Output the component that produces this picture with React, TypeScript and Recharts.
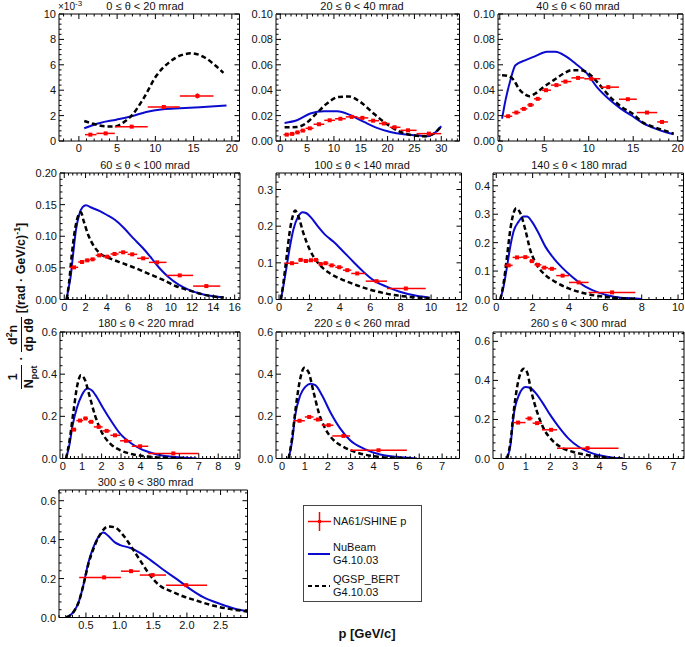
import React from 'react';
import { ComposedChart, Line, Scatter, ErrorBar, XAxis, YAxis } from 'recharts';

const FONT = "'Liberation Sans', Arial, Helvetica, sans-serif";
const RED = '#ff0000';
const BLUE = '#0b0bd0';

type Curve = [number, number][];
// p, value, bin low, bin high, stat error
type Meas = [number, number, number, number, number][];

// ---- 0 <= theta < 20 mrad (values in units of 1e-3)
const na61_0_20: Meas = [
  [1.5, 0.5, 0.8, 2.3, 0.06], [3.5, 0.6, 2.3, 4.7, 0.06], [6.9, 1.13, 4.7, 9.0, 0.08],
  [11.1, 2.68, 9.0, 13.2, 0.15], [15.5, 3.55, 13.2, 17.6, 0.2],
];
const nubeam_0_20: Curve = [
  [0.7, 1.0], [2.75, 1.42], [4.9, 1.68], [6.9, 1.95], [8.8, 2.29], [11, 2.5], [13.2, 2.58], [15.8, 2.66], [19.3, 2.79],
];
const qgsp_0_20: Curve = [
  [0.7, 1.58], [1.65, 1.4], [2.5, 1.25], [3.6, 1.15], [4.7, 1.15], [5.8, 1.45], [6.9, 2.0], [8.4, 3.3], [10.2, 5.2],
  [11.9, 6.24], [13.4, 6.76], [14.7, 6.9], [16.3, 6.63], [17.8, 5.97], [18.9, 5.37],
];

// ---- 20 <= theta < 40 mrad
const na61_20_40: Meas = [
  [1.2, 0.005, 0.6, 1.7, 0.0005], [2.2, 0.0056, 1.7, 2.7, 0.0005], [3.2, 0.0068, 2.7, 3.7, 0.0005],
  [4.2, 0.0082, 3.7, 4.7, 0.0006], [5.5, 0.01, 4.7, 6.2, 0.0006], [7.2, 0.0132, 6.2, 8.2, 0.0007],
  [9.2, 0.0163, 8.2, 10.2, 0.0008], [11.2, 0.0175, 10.2, 12.2, 0.0008], [13.3, 0.019, 12.2, 14.4, 0.0009],
  [15.3, 0.0182, 14.4, 16.4, 0.0009], [17.3, 0.016, 16.4, 18.4, 0.0008], [19.3, 0.0138, 18.4, 20.4, 0.0008],
  [21.3, 0.0108, 20.4, 22.4, 0.0007], [23.8, 0.0084, 22.4, 25.4, 0.0006], [27.7, 0.0058, 25.4, 30.0, 0.0005],
];
const nubeam_20_40: Curve = [
  [0.8, 0.0142], [3.1, 0.0163], [5.6, 0.0216], [8.1, 0.0234], [10.6, 0.0234], [13.1, 0.0203], [15.6, 0.015],
  [18, 0.0103], [20.5, 0.0071], [23, 0.0053], [25.5, 0.0045], [27.4, 0.0037], [28.6, 0.0058], [30, 0.0116],
];
const qgsp_20_40: Curve = [
  [0.8, 0.0108], [3.1, 0.011], [4.7, 0.0137], [6.8, 0.022], [8.7, 0.0295], [10.9, 0.0347], [12.8, 0.035],
  [14.9, 0.0308], [17.4, 0.0216], [19.9, 0.0132], [22.4, 0.0071], [24.6, 0.0045], [26.8, 0.0037], [28.6, 0.0058], [30, 0.0116],
];

// ---- 40 <= theta < 60 mrad
const na61_40_60: Meas = [
  [0.94, 0.0195, 0.5, 1.4, 0.0008], [1.87, 0.0224, 1.4, 2.3, 0.0008], [2.7, 0.0253, 2.3, 3.1, 0.0009],
  [3.45, 0.0284, 3.1, 3.85, 0.001], [4.27, 0.0332, 3.85, 4.7, 0.001], [5.2, 0.04, 4.7, 5.75, 0.0012],
  [6.37, 0.044, 5.75, 6.9, 0.0012], [7.38, 0.0468, 6.9, 8.05, 0.0012], [8.8, 0.0497, 8.05, 9.5, 0.0012],
  [10.3, 0.049, 9.5, 11.3, 0.0012], [12.2, 0.0424, 11.3, 13.4, 0.0012], [14.4, 0.0329, 13.4, 15.4, 0.001],
  [16.55, 0.0224, 15.4, 17.7, 0.0009], [18.24, 0.015, 17.7, 18.9, 0.0008],
];
const nubeam_40_60: Curve = [
  [0.26, 0.0176], [0.64, 0.032], [1.2, 0.048], [1.76, 0.0597], [2.9, 0.0637], [4.0, 0.0668], [5.3, 0.0703],
  [6.25, 0.0703], [7.4, 0.0668], [8.5, 0.061], [9.8, 0.0532], [10.9, 0.0426], [12.2, 0.0334], [13.6, 0.0255],
  [14.9, 0.0197], [16.2, 0.0137], [17.5, 0.0097], [18.6, 0.0071], [19.55, 0.0053],
];
const qgsp_40_60: Curve = [
  [0.26, 0.0518], [1.0, 0.051], [1.57, 0.048], [2.13, 0.0413], [2.7, 0.0374], [3.33, 0.0353], [4.0, 0.0374],
  [4.94, 0.0426], [6.07, 0.0479], [7.2, 0.0532], [8.1, 0.0558], [9.06, 0.0558], [10.0, 0.0532], [11.1, 0.0453],
  [12.4, 0.0347], [13.7, 0.0268], [14.9, 0.0216], [16.0, 0.015], [17.5, 0.0105], [19.0, 0.0071], [19.55, 0.0058],
];

// ---- 60 <= theta < 100 mrad
const na61_60_100: Meas = [
  [0.91, 0.0508, 0.53, 1.31, 0.002], [1.66, 0.0593, 1.31, 1.9, 0.002], [2.16, 0.0619, 1.9, 2.4, 0.002],
  [2.66, 0.0635, 2.4, 2.95, 0.002], [3.28, 0.0698, 2.95, 3.65, 0.002], [4.03, 0.0677, 3.65, 4.35, 0.002],
  [4.72, 0.072, 4.35, 5.1, 0.002], [5.53, 0.0746, 5.1, 5.95, 0.002], [6.38, 0.0714, 5.95, 6.85, 0.002],
  [7.41, 0.0651, 6.85, 7.95, 0.002], [8.72, 0.0587, 7.95, 9.6, 0.002], [10.84, 0.0381, 9.6, 12.1, 0.0015],
  [13.34, 0.0212, 12.1, 14.65, 0.0012],
];
const nubeam_60_100: Curve = [
  [0.22, 0], [0.37, 0.015], [0.6, 0.036], [0.84, 0.073], [1.1, 0.11], [1.4, 0.134], [1.72, 0.146], [2.03, 0.149],
  [2.6, 0.145], [3.3, 0.14], [3.97, 0.134], [4.75, 0.126], [5.6, 0.113], [6.47, 0.097], [7.4, 0.081], [8.2, 0.065],
  [8.97, 0.049], [9.75, 0.036], [10.7, 0.024], [11.6, 0.016], [12.7, 0.0095], [14, 0.005], [14.97, 0.003],
];
const qgsp_60_100: Curve = [
  [0.22, 0], [0.44, 0.025], [0.69, 0.068], [1.0, 0.11], [1.38, 0.135], [1.56, 0.138], [1.84, 0.123], [2.25, 0.102],
  [2.72, 0.086], [3.34, 0.073], [4.28, 0.065], [5.53, 0.057], [6.78, 0.049], [8.03, 0.04], [9.28, 0.031],
  [10.5, 0.021], [11.8, 0.014], [13, 0.008], [14.3, 0.004], [14.97, 0.003],
];

// ---- 100 <= theta < 140 mrad
const na61_100_140: Meas = [
  [0.85, 0.099, 0.35, 1.27, 0.003], [1.42, 0.108, 1.27, 1.6, 0.003], [1.77, 0.105, 1.6, 1.94, 0.003],
  [2.1, 0.107, 1.94, 2.27, 0.003], [2.43, 0.108, 2.27, 2.6, 0.003], [2.74, 0.097, 2.6, 2.9, 0.003],
  [3.06, 0.099, 2.9, 3.25, 0.003], [3.46, 0.093, 3.25, 3.7, 0.003], [3.96, 0.088, 3.7, 4.2, 0.003],
  [4.49, 0.08, 4.2, 4.75, 0.003], [5.14, 0.071, 4.75, 5.7, 0.003], [6.41, 0.05, 5.7, 7.1, 0.002],
  [8.34, 0.03, 7.1, 9.65, 0.002],
];
const nubeam_100_140: Curve = [
  [0.12, 0], [0.28, 0.035], [0.5, 0.09], [0.72, 0.145], [0.94, 0.19], [1.27, 0.227], [1.55, 0.238], [1.77, 0.236],
  [2.14, 0.222], [2.58, 0.198], [3.02, 0.177], [3.57, 0.158], [4.22, 0.131], [4.88, 0.103], [5.54, 0.076],
  [6.2, 0.053], [7.07, 0.035], [7.94, 0.021], [9.04, 0.01], [9.9, 0.005],
];
const qgsp_100_140: Curve = [
  [0.12, 0], [0.28, 0.044], [0.5, 0.117], [0.72, 0.19], [0.9, 0.227], [1.05, 0.243], [1.27, 0.227], [1.6, 0.181],
  [2.03, 0.135], [2.58, 0.099], [3.35, 0.071], [4.22, 0.053], [5.1, 0.039], [5.97, 0.027], [7.07, 0.016],
  [8.16, 0.009], [9.26, 0.005], [9.9, 0.004],
];

// ---- 140 <= theta < 180 mrad
const na61_140_180: Meas = [
  [0.68, 0.12, 0.45, 0.9, 0.004], [1.14, 0.148, 0.9, 1.36, 0.004], [1.6, 0.149, 1.36, 1.82, 0.004],
  [1.96, 0.135, 1.82, 2.1, 0.004], [2.29, 0.122, 2.1, 2.48, 0.004], [2.64, 0.112, 2.48, 2.85, 0.004],
  [3.06, 0.108, 2.85, 3.3, 0.004], [3.65, 0.084, 3.3, 4.0, 0.003], [4.53, 0.06, 4.0, 5.08, 0.003],
  [6.37, 0.025, 5.08, 7.65, 0.002],
];
const nubeam_140_180: Curve = [
  [0.22, 0], [0.4, 0.045], [0.59, 0.115], [0.77, 0.186], [0.95, 0.239], [1.23, 0.274], [1.5, 0.292], [1.69, 0.292],
  [1.96, 0.274], [2.33, 0.233], [2.7, 0.186], [3.16, 0.145], [3.61, 0.113], [4.17, 0.08], [4.9, 0.045],
  [5.63, 0.024], [6.55, 0.009], [7.47, 0.004], [8.0, 0.002],
];
const qgsp_140_180: Curve = [
  [0.22, 0], [0.4, 0.056], [0.59, 0.15], [0.77, 0.245], [0.95, 0.304], [1.1, 0.321], [1.32, 0.304], [1.6, 0.245],
  [1.87, 0.174], [2.24, 0.121], [2.7, 0.086], [3.25, 0.062], [3.98, 0.039], [4.72, 0.024], [5.63, 0.012],
  [6.55, 0.006], [7.65, 0.002],
];

// ---- 180 <= theta < 220 mrad
const na61_180_220: Meas = [
  [0.58, 0.137, 0.45, 0.7, 0.005], [0.89, 0.18, 0.7, 1.05, 0.005], [1.17, 0.19, 1.05, 1.3, 0.005],
  [1.46, 0.174, 1.3, 1.6, 0.005], [1.85, 0.15, 1.6, 2.05, 0.004], [2.26, 0.131, 2.05, 2.45, 0.004],
  [2.69, 0.11, 2.45, 2.95, 0.004], [3.26, 0.084, 2.95, 3.55, 0.003], [3.98, 0.058, 3.55, 4.4, 0.003],
  [5.69, 0.024, 4.4, 7.0, 0.002],
];
const nubeam_180_220: Curve = [
  [0.17, 0], [0.34, 0.063], [0.51, 0.158], [0.72, 0.237], [0.98, 0.3], [1.27, 0.332], [1.49, 0.324], [1.75, 0.292],
  [2.09, 0.237], [2.52, 0.174], [2.95, 0.118], [3.46, 0.076], [3.98, 0.047], [4.67, 0.024], [5.52, 0.009],
  [6.38, 0.003], [6.9, 0],
];
const qgsp_180_220: Curve = [
  [0.17, 0], [0.34, 0.079], [0.55, 0.221], [0.75, 0.347], [0.94, 0.395], [1.15, 0.371], [1.37, 0.3], [1.66, 0.205],
  [2.0, 0.126], [2.44, 0.071], [2.95, 0.04], [3.64, 0.019], [4.5, 0.008], [5.35, 0.003], [6.38, 0],
];

// ---- 220 <= theta < 260 mrad
const na61_220_260: Meas = [
  [0.77, 0.179, 0.5, 1.0, 0.006], [1.19, 0.197, 1.0, 1.38, 0.006], [1.57, 0.185, 1.38, 1.74, 0.006],
  [2.04, 0.158, 1.74, 2.25, 0.005], [2.69, 0.107, 2.2, 2.98, 0.004], [4.22, 0.039, 2.98, 5.46, 0.002],
];
const nubeam_220_260: Curve = [
  [0.29, 0], [0.44, 0.079], [0.58, 0.205], [0.8, 0.3], [1.02, 0.34], [1.24, 0.355], [1.46, 0.348], [1.75, 0.3],
  [2.11, 0.221], [2.55, 0.142], [2.98, 0.087], [3.57, 0.047], [4.29, 0.019], [5.02, 0.008], [5.9, 0],
];
const qgsp_220_260: Curve = [
  [0.29, 0], [0.44, 0.095], [0.58, 0.221], [0.77, 0.363], [0.98, 0.43], [1.16, 0.41], [1.38, 0.316], [1.6, 0.221],
  [1.89, 0.142], [2.26, 0.087], [2.69, 0.055], [3.28, 0.028], [4.0, 0.011], [4.73, 0.003], [5.6, 0],
];

// ---- 260 <= theta < 300 mrad
const na61_260_300: Meas = [
  [0.69, 0.184, 0.48, 0.99, 0.007], [1.15, 0.205, 0.99, 1.28, 0.007], [1.46, 0.181, 1.28, 1.66, 0.006],
  [2.03, 0.147, 1.66, 2.27, 0.005], [3.51, 0.053, 2.27, 4.77, 0.003],
];
const nubeam_260_300: Curve = [
  [0.24, 0], [0.38, 0.068], [0.51, 0.222], [0.72, 0.324], [0.99, 0.366], [1.19, 0.361], [1.39, 0.337], [1.66, 0.29],
  [2.0, 0.222], [2.34, 0.162], [2.74, 0.102], [3.15, 0.06], [3.55, 0.034], [4.09, 0.014], [4.64, 0.003], [4.97, 0],
];
const qgsp_260_300: Curve = [
  [0.24, 0], [0.38, 0.085], [0.51, 0.239], [0.69, 0.392], [0.92, 0.46], [1.05, 0.443], [1.23, 0.341], [1.46, 0.239],
  [1.73, 0.153], [2.07, 0.094], [2.47, 0.055], [3.01, 0.031], [3.69, 0.014], [4.36, 0.003], [4.97, 0],
];

// ---- 300 <= theta < 380 mrad
const na61_300_380: Meas = [
  [0.77, 0.206, 0.4, 1.02, 0.008], [1.17, 0.238, 1.02, 1.3, 0.009], [1.49, 0.218, 1.3, 1.69, 0.008],
  [1.99, 0.166, 1.69, 2.3, 0.007],
];
const nubeam_300_380: Curve = [
  [0.21, 0], [0.31, 0.026], [0.39, 0.077], [0.46, 0.163], [0.53, 0.274], [0.61, 0.36], [0.68, 0.411], [0.76, 0.437],
  [0.83, 0.42], [0.93, 0.386], [1.01, 0.372], [1.16, 0.357], [1.31, 0.331], [1.46, 0.295], [1.65, 0.245],
  [1.85, 0.197], [2.05, 0.146], [2.25, 0.103], [2.5, 0.069], [2.7, 0.046], [2.9, 0.031],
];
const qgsp_300_380: Curve = [
  [0.21, 0], [0.31, 0.026], [0.39, 0.077], [0.46, 0.163], [0.53, 0.266], [0.63, 0.369], [0.73, 0.437], [0.83, 0.468],
  [0.93, 0.463], [1.06, 0.42], [1.18, 0.36], [1.31, 0.291], [1.46, 0.214], [1.6, 0.163], [1.75, 0.137],
  [1.95, 0.108], [2.15, 0.086], [2.4, 0.06], [2.65, 0.043], [2.9, 0.031],
];

// tick values
const range = (a: number, b: number, s: number) => {
  const out: number[] = [];
  for (let v = a; v <= b + 1e-9; v += s) out.push(Math.round(v * 1e6) / 1e6);
  return out;
};
const f0 = (v: number) => String(Math.round(v));
const f1 = (v: number) => v.toFixed(1);
const f2 = (v: number) => v.toFixed(2);

interface PanelCfg {
  title: string;
  titleX: number;
  titleY: number;
  box: [number, number, number, number];
  xDomain: [number, number];
  yDomain: [number, number];
  xMajor: number[];
  xMinor: number[];
  yMajor: number[];
  yMinor: number[];
  xFmt: (v: number) => string;
  yFmt: (v: number) => string;
  meas: Meas;
  nubeam: Curve;
  qgsp: Curve;
}

const PANELS: PanelCfg[] = [
  {
    title: '0 ≤ θ < 20 mrad', titleX: 145, titleY: 6, box: [59, 14, 239.5, 141],
    xDomain: [-2.6, 21], yDomain: [0, 10],
    xMajor: [0, 5, 10, 15, 20], xMinor: range(-2, 21, 1), yMajor: [0, 2, 4, 6, 8, 10], yMinor: range(0, 10, 0.4),
    xFmt: f0, yFmt: f0, meas: na61_0_20, nubeam: nubeam_0_20, qgsp: qgsp_0_20,
  },
  {
    title: '20 ≤ θ < 40 mrad', titleX: 362, titleY: 6, box: [276, 14, 459.5, 141],
    xDomain: [-0.8, 33.4], yDomain: [0, 0.1],
    xMajor: [0, 5, 10, 15, 20, 25, 30], xMinor: range(0, 33, 1), yMajor: [0, 0.02, 0.04, 0.06, 0.08, 0.1],
    yMinor: range(0, 0.1, 0.004), xFmt: f0, yFmt: f2, meas: na61_20_40, nubeam: nubeam_20_40, qgsp: qgsp_20_40,
  },
  {
    title: '40 ≤ θ < 60 mrad', titleX: 578, titleY: 6, box: [498, 14, 683, 141],
    xDomain: [-0.2, 20.6], yDomain: [0, 0.1],
    xMajor: [0, 5, 10, 15, 20], xMinor: range(0, 20, 1), yMajor: [0, 0.02, 0.04, 0.06, 0.08, 0.1],
    yMinor: range(0, 0.1, 0.004), xFmt: f0, yFmt: f2, meas: na61_40_60, nubeam: nubeam_40_60, qgsp: qgsp_40_60,
  },
  {
    title: '60 ≤ θ < 100 mrad', titleX: 145, titleY: 165, box: [60, 173, 240, 299.5],
    xDomain: [-0.4, 16.5], yDomain: [0, 0.2],
    xMajor: [0, 2, 4, 6, 8, 10, 12, 14, 16], xMinor: range(0, 16.4, 0.4), yMajor: [0, 0.05, 0.1, 0.15, 0.2],
    yMinor: range(0, 0.2, 0.01), xFmt: f0, yFmt: f2, meas: na61_60_100, nubeam: nubeam_60_100, qgsp: qgsp_60_100,
  },
  {
    title: '100 ≤ θ < 140 mrad', titleX: 362, titleY: 165, box: [276, 173, 461.5, 299.5],
    xDomain: [-0.2, 12], yDomain: [0, 0.345],
    xMajor: [0, 2, 4, 6, 8, 10, 12], xMinor: range(0, 12, 0.4), yMajor: [0, 0.1, 0.2, 0.3],
    yMinor: range(0, 0.34, 0.02), xFmt: f0, yFmt: f1, meas: na61_100_140, nubeam: nubeam_100_140, qgsp: qgsp_100_140,
  },
  {
    title: '140 ≤ θ < 180 mrad', titleX: 579, titleY: 165, box: [493, 173, 683.5, 299.5],
    xDomain: [-0.18, 10.3], yDomain: [0, 0.445],
    xMajor: [0, 2, 4, 6, 8, 10], xMinor: range(0, 10.2, 0.4), yMajor: [0, 0.1, 0.2, 0.3, 0.4],
    yMinor: range(0, 0.44, 0.02), xFmt: f0, yFmt: f1, meas: na61_140_180, nubeam: nubeam_140_180, qgsp: qgsp_140_180,
  },
  {
    title: '180 ≤ θ < 220 mrad', titleX: 146, titleY: 323, box: [60, 332, 240, 458.5],
    xDomain: [-0.14, 9.12], yDomain: [0, 0.6],
    xMajor: [0, 1, 2, 3, 4, 5, 6, 7, 8, 9], xMinor: range(0, 9, 0.2), yMajor: [0, 0.2, 0.4, 0.6],
    yMinor: range(0, 0.6, 0.04), xFmt: f0, yFmt: f1, meas: na61_180_220, nubeam: nubeam_180_220, qgsp: qgsp_180_220,
  },
  {
    title: '220 ≤ θ < 260 mrad', titleX: 362, titleY: 323, box: [276, 332, 459.5, 458.5],
    xDomain: [-0.26, 7.76], yDomain: [0, 0.6],
    xMajor: [0, 1, 2, 3, 4, 5, 6, 7], xMinor: range(0, 7.6, 0.2), yMajor: [0, 0.2, 0.4, 0.6],
    yMinor: range(0, 0.6, 0.04), xFmt: f0, yFmt: f1, meas: na61_220_260, nubeam: nubeam_220_260, qgsp: qgsp_220_260,
  },
  {
    title: '260 ≤ θ < 300 mrad', titleX: 578.5, titleY: 323, box: [493, 332, 684, 458.5],
    xDomain: [-0.33, 7.43], yDomain: [0, 0.648],
    xMajor: [0, 1, 2, 3, 4, 5, 6, 7], xMinor: range(0, 7.4, 0.2), yMajor: [0, 0.2, 0.4, 0.6],
    yMinor: range(0, 0.64, 0.04), xFmt: f0, yFmt: f1, meas: na61_260_300, nubeam: nubeam_260_300, qgsp: qgsp_260_300,
  },
  {
    title: '300 ≤ θ < 380 mrad', titleX: 145.5, titleY: 482, box: [59, 489.5, 247.5, 617],
    xDomain: [0.1, 2.9], yDomain: [0, 0.655],
    xMajor: [0.5, 1, 1.5, 2, 2.5], xMinor: range(0.1, 2.9, 0.1), yMajor: [0, 0.2, 0.4, 0.6],
    yMinor: range(0, 0.64, 0.04), xFmt: f1, yFmt: f1, meas: na61_300_380, nubeam: nubeam_300_380, qgsp: qgsp_300_380,
  },
];

const toLine = (c: Curve) => c.map(([x, y]) => ({ x, y }));
const toMeas = (m: Meas) => m.map(([x, y, lo, hi, e]) => ({ x, y, ex: [x - lo, hi - x], ey: e }));
const isIn = (list: number[], v: number) => list.some((m) => Math.abs(m - v) < 1e-7);

function AxisTick(props: any) {
  const { x, y, payload, side, majors, fmt } = props;
  const v = payload.value;
  const major = isIn(majors, v);
  const len = major ? 5 : 2.5;
  let ln;
  if (side === 'b') ln = <line x1={x} y1={y} x2={x} y2={y - len} />;
  else if (side === 't') ln = <line x1={x} y1={y} x2={x} y2={y + len} />;
  else if (side === 'l') ln = <line x1={x} y1={y} x2={x + len} y2={y} />;
  else ln = <line x1={x} y1={y} x2={x - len} y2={y} />;
  return (
    <g stroke="#000" strokeWidth={1}>
      {ln}
      {major && side === 'b' && (
        <text x={x} y={y + 11} textAnchor="middle" stroke="none" fill="#111" fontSize={11} fontFamily={FONT}>
          {fmt(v)}
        </text>
      )}
      {major && side === 'l' && (
        <text x={x - 3} y={y + 4} textAnchor="end" stroke="none" fill="#111" fontSize={11} fontFamily={FONT}>
          {fmt(v)}
        </text>
      )}
    </g>
  );
}

const Square = (p: any) => <rect x={p.cx - 2} y={p.cy - 2} width={4} height={4} fill={RED} />;

function Panel({ cfg }: { cfg: PanelCfg }) {
  // axes get a 1px band (a zero-sized axis is not drawn), margins shrink by the same amount
  const ML = 44, MR = 14, MT = 6, MB = 16;
  const [x0, y0, x1, y1] = cfg.box;
  const w = x1 - x0, h = y1 - y0;
  const xt = [...cfg.xMajor, ...cfg.xMinor.filter((v) => !isIn(cfg.xMajor, v))];
  const yt = [...cfg.yMajor, ...cfg.yMinor.filter((v) => !isIn(cfg.yMajor, v))];
  const common = { allowDataOverflow: true, interval: 0 as const, tickSize: 0, tickMargin: 0, tickLine: false, axisLine: { stroke: '#000', strokeWidth: 1 } };
  return (
    <div style={{ position: 'absolute', left: x0 - ML, top: y0 - MT }}>
      <ComposedChart width={w + ML + MR} height={h + MT + MB}
        margin={{ top: MT - 1, right: MR - 1, bottom: MB - 1, left: ML - 1 }}>
        <XAxis xAxisId="b" dataKey="x" type="number" domain={cfg.xDomain} ticks={xt} height={1} {...common}
          tick={<AxisTick side="b" majors={cfg.xMajor} fmt={cfg.xFmt} />} />
        <XAxis xAxisId="t" orientation="top" dataKey="x" type="number" domain={cfg.xDomain} ticks={xt} height={1} {...common}
          tick={<AxisTick side="t" majors={cfg.xMajor} fmt={cfg.xFmt} />} />
        <YAxis yAxisId="l" type="number" domain={cfg.yDomain} ticks={yt} width={1} {...common}
          tick={<AxisTick side="l" majors={cfg.yMajor} fmt={cfg.yFmt} />} />
        <YAxis yAxisId="r" orientation="right" type="number" domain={cfg.yDomain} ticks={yt} width={1} {...common}
          tick={<AxisTick side="r" majors={cfg.yMajor} fmt={cfg.yFmt} />} />
        <Line xAxisId="b" yAxisId="l" data={toLine(cfg.nubeam)} dataKey="y" type="monotone" stroke={BLUE}
          strokeWidth={2} dot={false} isAnimationActive={false} />
        <Line xAxisId="b" yAxisId="l" data={toLine(cfg.qgsp)} dataKey="y" type="monotone" stroke="#000"
          strokeWidth={2.5} strokeDasharray="5 3" dot={false} isAnimationActive={false} />
        <Scatter xAxisId="b" yAxisId="l" data={toMeas(cfg.meas)} dataKey="y" fill={RED} shape={<Square />}
          isAnimationActive={false}>
          <ErrorBar dataKey="ex" direction="x" width={0} stroke={RED} strokeWidth={1.5} />
          <ErrorBar dataKey="ey" direction="y" width={0} stroke={RED} strokeWidth={1.5} />
        </Scatter>
      </ComposedChart>
    </div>
  );
}

const Frac = ({ num, den }: { num: React.ReactNode; den: React.ReactNode }) => (
  <span style={{ display: 'inline-flex', flexDirection: 'column', alignItems: 'center', lineHeight: 1 }}>
    <span style={{ padding: '0 1px 1px' }}>{num}</span>
    <span style={{ borderTop: '1.5px solid #111', padding: '1px 1px 0' }}>{den}</span>
  </span>
);

const small = { fontSize: '0.7em', lineHeight: 0 };

export default function App() {
  const text = { fontFamily: FONT, fontSize: 11, color: '#111', position: 'absolute' as const, whiteSpace: 'nowrap' as const };
  return (
    <div style={{ position: 'absolute', left: 0, top: 0, width: 685, height: 647, background: '#fff', overflow: 'hidden' }}>
      {PANELS.map((p) => (
        <React.Fragment key={p.title}>
          <Panel cfg={p} />
          <div style={{ ...text, left: p.titleX - 80, width: 160, textAlign: 'center', top: p.titleY - 7, lineHeight: '14px' }}>
            {p.title}
          </div>
        </React.Fragment>
      ))}
      <div style={{ ...text, left: 58, top: 1, fontSize: 10, lineHeight: '12px' }}>
        ×10<sup style={{ fontSize: 8, lineHeight: 0, verticalAlign: 4 }}>-3</sup>
      </div>

      {/* y axis title */}
      <div style={{
        position: 'absolute', left: 21 - 90, top: 306 - 18, width: 180, height: 36, transform: 'rotate(-90deg)',
        display: 'flex', alignItems: 'center', justifyContent: 'center', fontFamily: FONT, fontWeight: 'bold',
        fontSize: 12.5, color: '#111', whiteSpace: 'nowrap',
      }}>
        <Frac num="1" den={<>N<sub style={small}>pot</sub></>} />
        <span style={{ margin: '0 4px' }}>·</span>
        <Frac num={<>d<sup style={small}>2</sup>n</>} den="dp dθ" />
        <span style={{ marginLeft: 4 }}>[(rad · GeV/c)<sup style={small}>-1</sup>]</span>
      </div>

      {/* x axis title */}
      <div style={{ ...text, left: 367 - 60, width: 120, textAlign: 'center', top: 626, fontWeight: 'bold', fontSize: 13, lineHeight: '15px' }}>
        p [GeV/c]
      </div>

      {/* legend */}
      <div style={{ position: 'absolute', left: 303, top: 505, width: 117, height: 95, border: '1px solid #444' }} />
      <svg style={{ position: 'absolute', left: 0, top: 0 }} width={685} height={647}>
        <line x1={308} y1={521.5} x2={331} y2={521.5} stroke={RED} strokeWidth={1.5} />
        <line x1={319.5} y1={512} x2={319.5} y2={531} stroke={RED} strokeWidth={1.5} />
        <rect x={318} y={520} width={3} height={3} fill={RED} />
        <line x1={308} y1={554} x2={330} y2={554} stroke={BLUE} strokeWidth={2} />
        <line x1={308} y1={586} x2={330} y2={586} stroke="#000" strokeWidth={2} strokeDasharray="4 3" />
      </svg>
      <div style={{ ...text, left: 333, top: 514, lineHeight: '14px' }}>NA61/SHINE p</div>
      <div style={{ ...text, left: 333, top: 541, lineHeight: '12.5px' }}>NuBeam<br />G4.10.03</div>
      <div style={{ ...text, left: 333, top: 573, lineHeight: '12.5px' }}>QGSP_BERT<br />G4.10.03</div>
    </div>
  );
}
